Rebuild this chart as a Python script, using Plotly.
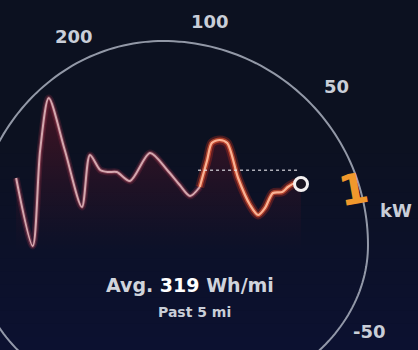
import numpy as np
import plotly.graph_objects as go

# ---- data ----
miles = [-4.98, -4.69, -4.56, -4.41, -4.13, -3.83, -3.69, -3.51, -3.37, -3.22,
         -2.99, -2.64, -2.34, -2.12, -1.94, -1.77, -1.64, -1.56, -1.42, -1.29,
         -1.10, -0.89, -0.75, -0.63, -0.49, -0.33, -0.23, -0.10, 0.0]
whmi = [288, 16, 400, 608, 400, 172, 380, 320, 312, 312,
        276, 388, 320, 260, 216, 252, 360, 428, 440, 428,
        288, 180, 140, 168, 228, 232, 252, 268, 264]
avg_whmi = 319
past_miles = 5
gauge_ticks = ["200", "100", "50", "-50"]
gauge_unit = "kW"
current_kw = "1"

W, H = 418, 350
BG = "#0c1120"

def P(x, y):
    return x / W, 1 - y / H

split = 15  # index where the recent (orange) segment begins

fig = go.Figure()

# fill beneath the line
fig.add_trace(go.Scatter(
    x=miles, y=whmi, mode="lines", line=dict(width=0, shape="spline", smoothing=0.8),
    fill="tozeroy",
    fillgradient=dict(type="vertical",
                      colorscale=[[0, "rgba(110,20,40,0.0)"], [1, "rgba(150,25,45,0.40)"]]),
    hoverinfo="skip", showlegend=False))

xl, yl = miles[:split + 1], whmi[:split + 1]
xr, yr = miles[split:], whmi[split:]
for w, c in [(7, "rgba(170,50,75,0.22)"), (4, "rgba(190,90,110,0.40)"), (2, "rgb(212,168,175)")]:
    fig.add_trace(go.Scatter(x=xl, y=yl, mode="lines",
                             line=dict(width=w, color=c, shape="spline", smoothing=0.8),
                             hoverinfo="skip", showlegend=False))
for w, c in [(9, "rgba(225,50,30,0.28)"), (5, "rgba(238,90,50,0.60)"), (2.2, "rgb(250,178,148)")]:
    fig.add_trace(go.Scatter(x=xr, y=yr, mode="lines",
                             line=dict(width=w, color=c, shape="spline", smoothing=0.8),
                             hoverinfo="skip", showlegend=False))

# average line
fig.add_trace(go.Scatter(x=[miles[split] - 0.03, miles[-1] - 0.05], y=[avg_whmi, avg_whmi],
                         mode="lines", line=dict(width=1.3, color="rgba(230,230,235,0.75)", dash="dot"),
                         hoverinfo="skip", showlegend=False))

# current point
fig.add_trace(go.Scatter(x=[miles[-1]], y=[whmi[-1]], mode="markers",
                         marker=dict(size=13, color="#1a1420", line=dict(width=3, color="#f4f0f0")),
                         hoverinfo="skip", showlegend=False))

# ---- background tint + gauge arc ----
shapes = []
n_strips = 16
for k in range(1, n_strips + 1):
    shapes.append(dict(type="rect", xref="paper", yref="paper", x0=0, x1=1, y0=0,
                       y1=0.6 * k / n_strips, fillcolor="rgba(40,55,120,0.014)",
                       line=dict(width=0), layer="below"))

cx, cy = 163, 245
pts = []
for t in np.linspace(0, 2 * np.pi, 241):
    c, s = np.cos(t), np.sin(t)
    rx = 205 if c >= 0 else 190
    ry = 204 if s >= 0 else 163
    pts.append(P(cx + rx * c, cy - ry * s))
path = "M " + " L ".join(f"{a:.5f},{b:.5f}" for a, b in pts) + " Z"
shapes.append(dict(type="path", xref="paper", yref="paper", path=path,
                   line=dict(color="rgba(170,176,190,0.85)", width=2), layer="below"))

LBL = "#c9ced8"
FONT = "DejaVu Sans"
ann = []
def add_text(txt, x, y, size, color=LBL, angle=0, bold=True):
    ax, ay = P(x, y)
    ann.append(dict(text=f"<b>{txt}</b>" if bold else txt, x=ax, y=ay, xref="paper", yref="paper",
                    showarrow=False, xanchor="center", yanchor="middle", textangle=angle,
                    font=dict(family=FONT, size=size, color=color)))

add_text(gauge_ticks[0], 74, 36, 18)
add_text(gauge_ticks[1], 210, 21, 18)
add_text(gauge_ticks[2], 336, 86, 18)
add_text(gauge_ticks[3], 369, 331, 18)
add_text(gauge_unit, 396, 210, 18)
add_text(current_kw, 353, 190, 42, color="#f0982c", angle=-10)
ax, ay = P(190, 285)
ann.append(dict(text=f"<b>Avg. <span style='color:#ffffff'>{avg_whmi}</span> Wh/mi</b>",
                x=ax, y=ay, xref="paper", yref="paper", showarrow=False,
                xanchor="center", yanchor="middle",
                font=dict(family=FONT, size=19, color="#d0d4dc")))
add_text(f"Past {past_miles} mi", 194, 312, 14, color="#c9ced8")

fig.update_layout(
    width=W, height=H, margin=dict(l=0, r=0, t=0, b=0),
    paper_bgcolor=BG, plot_bgcolor="rgba(0,0,0,0)",
    xaxis=dict(range=[-5.262, 2.045], visible=False, fixedrange=True),
    yaxis=dict(range=[-400, 1000], visible=False, fixedrange=True),
    shapes=shapes, annotations=ann, showlegend=False,
)

fig.write_html("out.html", config={"displayModeBar": False},
               post_script="document.body.style.margin='0';document.body.style.background='" + BG + "';")
